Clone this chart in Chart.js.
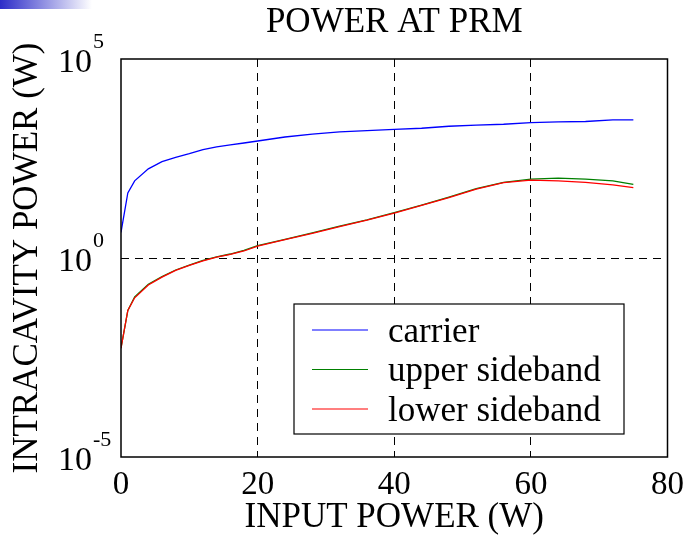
<!DOCTYPE html>
<html>
<head>
<meta charset="utf-8">
<script src="https://cdn.jsdelivr.net/npm/chart.js@4/dist/chart.umd.min.js"></script>
<style>
  html, body { margin: 0; padding: 0; background: #fff; }
  #wrap { width: 693px; height: 540px; }
</style>
</head>
<body>
<div id="wrap"><canvas id="powerChart" width="693" height="540"></canvas></div>
<script>
// Datos
const inputPower = [0, 1, 2, 4, 6, 8, 10, 12, 14, 16, 18, 20, 24, 28, 32, 36, 40, 44, 48, 52, 56, 60, 64, 68, 72, 75];
const carrier = [4.4, 43, 87, 174, 263, 339, 417, 525, 617, 692, 776, 871, 1096, 1288, 1479, 1585, 1698, 1820, 2042, 2188, 2291, 2512, 2630, 2692, 2951, 2951];
const upperSideband = [0.0054, 0.048, 0.105, 0.219, 0.339, 0.50, 0.66, 0.87, 1.07, 1.26, 1.55, 2.04, 2.95, 4.27, 6.31, 9.12, 13.8, 21.4, 33.9, 55, 79, 95.5, 102, 95.5, 87, 71];
const lowerSideband = [0.0054, 0.048, 0.100, 0.209, 0.33, 0.49, 0.65, 0.85, 1.05, 1.23, 1.5, 2.0, 2.88, 4.17, 6.17, 8.9, 13.5, 21, 33, 54, 78, 91, 87, 79, 69, 59];
const xTicks = [0, 20, 40, 60, 80];
const yTicks = [1e-5, 1e0, 1e5];
const yExponents = ['-5', '0', '5'];

const serif = '"Liberation Serif", "Times New Roman", serif';

function toPoints(values) {
    return inputPower.map((x, i) => ({ x: x, y: values[i] }));
}

// Barra degradada de la diapositiva, marco y etiquetas del eje Y
const decorPlugin = {
    id: 'decor',
    beforeDraw(chart) {
        const c = chart.ctx;
        const g = c.createLinearGradient(0, 0, 92, 0);
        g.addColorStop(0, '#2c2cc8');
        g.addColorStop(1, 'rgba(255,255,255,1)');
        c.save();
        c.fillStyle = g;
        c.fillRect(0, 0, 92, 9);
        c.restore();
    },
    afterDraw(chart) {
        const c = chart.ctx;
        const a = chart.chartArea;
        const y = chart.scales.y;
        c.save();
        // marco
        c.strokeStyle = '#000';
        c.lineWidth = 1.5;
        c.strokeRect(a.left, a.top, a.right - a.left, a.bottom - a.top);

        // etiquetas 10^n
        c.fillStyle = '#000';
        c.textBaseline = 'alphabetic';
        yTicks.forEach((v, i) => {
            const py = y.getPixelForValue(v);
            c.font = '34px ' + serif;
            c.textAlign = 'right';
            c.fillText('10', 92, py + 12.5);
            c.font = '22px ' + serif;
            c.textAlign = 'left';
            c.fillText(yExponents[i], 93, py - 11);
        });

        // leyenda
        const bx = 294, by = 304, bw = 330, bh = 130;
        c.fillStyle = '#fff';
        c.fillRect(bx, by, bw, bh);
        c.strokeStyle = '#000';
        c.lineWidth = 1.2;
        c.strokeRect(bx, by, bw, bh);
        const rows = [330, 369.5, 409];
        chart.data.datasets.forEach((ds, i) => {
            c.strokeStyle = ds.borderColor;
            c.lineWidth = 1.2;
            c.beginPath();
            c.moveTo(312, rows[i]);
            c.lineTo(368, rows[i]);
            c.stroke();
            c.fillStyle = '#000';
            c.font = '35px ' + serif;
            c.textAlign = 'left';
            c.fillText(ds.label, 388, rows[i] + 11.5);
        });
        c.restore();
    }
};

const ctx = document.getElementById('powerChart').getContext('2d');
const chart = new Chart(ctx, {
    type: 'line',
    data: {
        datasets: [
            {
                label: 'carrier',
                data: toPoints(carrier),
                borderColor: '#0000ff',
                order: 0
            },
            {
                label: 'upper sideband',
                data: toPoints(upperSideband),
                borderColor: '#008000',
                order: 2
            },
            {
                label: 'lower sideband',
                data: toPoints(lowerSideband),
                borderColor: '#ff0000',
                order: 1
            }
        ]
    },
    options: {
        responsive: false,
        animation: false,
        layout: { padding: { left: 0, top: 0, right: 19, bottom: 0 } },
        elements: {
            line: { borderWidth: 1.3, tension: 0 },
            point: { radius: 0 }
        },
        plugins: {
            legend: { display: false },
            tooltip: { enabled: false },
            title: {
                display: true,
                text: 'POWER AT PRM',
                fullSize: false,
                color: '#000',
                font: { family: serif, size: 35, weight: 'normal', lineHeight: 1 },
                padding: { top: 5, bottom: 19 }
            }
        },
        scales: {
            x: {
                type: 'linear',
                min: 0,
                max: 80,
                afterFit(scale) { scale.height = 83; },
                afterBuildTicks(scale) { scale.ticks = xTicks.map(v => ({ value: v })); },
                grid: {
                    drawTicks: false,
                    color: c => (c.tick && c.tick.value > 0 && c.tick.value < 80) ? '#000' : 'rgba(0,0,0,0)',
                    lineWidth: 1
                },
                border: { display: false, dash: [8, 6] },
                ticks: {
                    color: '#000',
                    padding: 9,
                    font: { family: serif, size: 33 },
                    maxRotation: 0
                },
                title: {
                    display: true,
                    text: 'INPUT POWER (W)',
                    color: '#000',
                    font: { family: serif, size: 35, lineHeight: 1 },
                    padding: { top: 0, bottom: 5 }
                }
            },
            y: {
                type: 'logarithmic',
                min: 1e-5,
                max: 1e5,
                afterFit(scale) { scale.width = 121; },
                afterBuildTicks(scale) { scale.ticks = yTicks.map(v => ({ value: v })); },
                grid: {
                    drawTicks: false,
                    color: c => (c.tick && c.tick.value === 1) ? '#000' : 'rgba(0,0,0,0)',
                    lineWidth: 1
                },
                border: { display: false, dash: [8, 6] },
                ticks: { display: false },
                title: {
                    display: true,
                    text: 'INTRACAVITY POWER (W)',
                    color: '#000',
                    font: { family: serif, size: 35, lineHeight: 1 },
                    padding: { top: 10, bottom: 0 }
                }
            }
        }
    },
    plugins: [decorPlugin]
});
</script>
</body>
</html>
